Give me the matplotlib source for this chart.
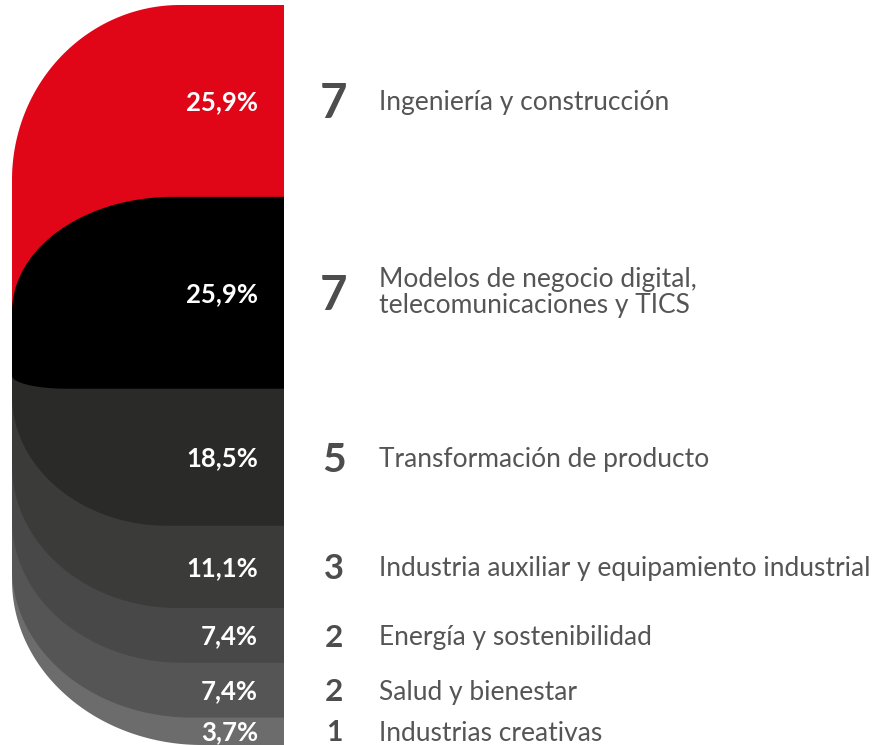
import numpy as np
import matplotlib
matplotlib.use("Agg")
import matplotlib.pyplot as plt
from matplotlib.patches import Polygon

# ---------------- data ----------------
categories = [
    "Ingeniería y construcción",
    "Modelos de negocio digital,\ntelecomunicaciones y TICS",
    "Transformación de producto",
    "Industria auxiliar y equipamiento industrial",
    "Energía y sostenibilidad",
    "Salud y bienestar",
    "Industrias creativas",
]
counts = [7, 7, 5, 3, 2, 2, 1]
percentages = [25.9, 25.9, 18.5, 11.1, 7.4, 7.4, 3.7]
colors = ["#e10518", "#000000", "#2a2a29", "#3b3b3a", "#484848", "#555555", "#6c6c6c"]

# ---------------- layout / style ----------------
W, H = 880, 745
TOP_PX = 5
X0, X1 = 12, 284
FONT = "Lato"

fig = plt.figure(figsize=(W / 100, H / 100), dpi=100)
ax = fig.add_axes([0, 0, 1, 1])
total = sum(counts)
px_per_unit = (H - TOP_PX) / total
ax.set_xlim(0, W)
ax.set_ylim(total, -TOP_PX / px_per_unit)
ax.axis("off")


def py(px):
    return px / px_per_unit


bounds = np.concatenate([[0], np.cumsum(counts)]).astype(float)


def band_shape(top, bottom, color, tl=None, bl=None, n=80):
    pts = [(X1, top)]
    if tl:
        rx, ry = tl[0], py(tl[1])
        cx, cy = X0 + rx, top + ry
        t = np.linspace(np.pi / 2, np.pi, n)
        pts += list(zip(cx + rx * np.cos(t), cy - ry * np.sin(t)))
    else:
        pts.append((X0, top))
    if bl:
        rx, ry = bl[0], py(bl[1])
        cx, cy = X0 + rx, bottom - ry
        t = np.linspace(np.pi, 1.5 * np.pi, n)
        pts += list(zip(cx + rx * np.cos(t), cy - ry * np.sin(t)))
    else:
        pts.append((X0, bottom))
    pts.append((X1, bottom))
    return Polygon(pts, closed=True, facecolor=color, edgecolor="none")


# bottom-left corner radii (px) for the lower layers
bl_radii = {2: (155, 130), 3: (165, 143), 4: (170, 143), 5: (180, 150), 6: (190, 165)}

# lower layers, back to front
for i in range(len(counts) - 1, 1, -1):
    ax.add_patch(band_shape(bounds[1], bounds[i + 1], colors[i], bl=bl_radii[i]))
# red top layer
ax.add_patch(band_shape(bounds[0], bounds[1] + py(140), colors[0], tl=(168, 175)))
# black layer in front
ax.add_patch(band_shape(bounds[1], bounds[2], colors[1], tl=(161, 115), bl=(55, 13)))

# ---------------- labels ----------------
for i, (cat, c, p) in enumerate(zip(categories, counts, percentages)):
    yc = (bounds[i] + bounds[i + 1]) / 2
    pct_size = 18.5
    ax.text(258, yc + py(0.36 * pct_size * 100 / 72), f"{p:.1f}%".replace(".", ","),
            ha="right", va="baseline", color="white", fontsize=pct_size,
            fontweight="bold", family=FONT)
    num_size = 18 + 2.3 * c
    ax.text(334, yc + py(0.36 * num_size * 100 / 72), str(c), ha="center", va="baseline",
            color="#4d4d4d", fontsize=num_size, fontweight="bold", family=FONT)
    lab_size = 19
    if "\n" in cat:
        ax.text(379, yc, cat, ha="left", va="center", color="#555555",
                fontsize=lab_size, family=FONT, linespacing=1.05)
    else:
        ax.text(379, yc + py(0.36 * lab_size * 100 / 72), cat, ha="left", va="baseline",
                color="#555555", fontsize=lab_size, family=FONT)

fig.savefig("out.png", dpi=100, facecolor="white")
